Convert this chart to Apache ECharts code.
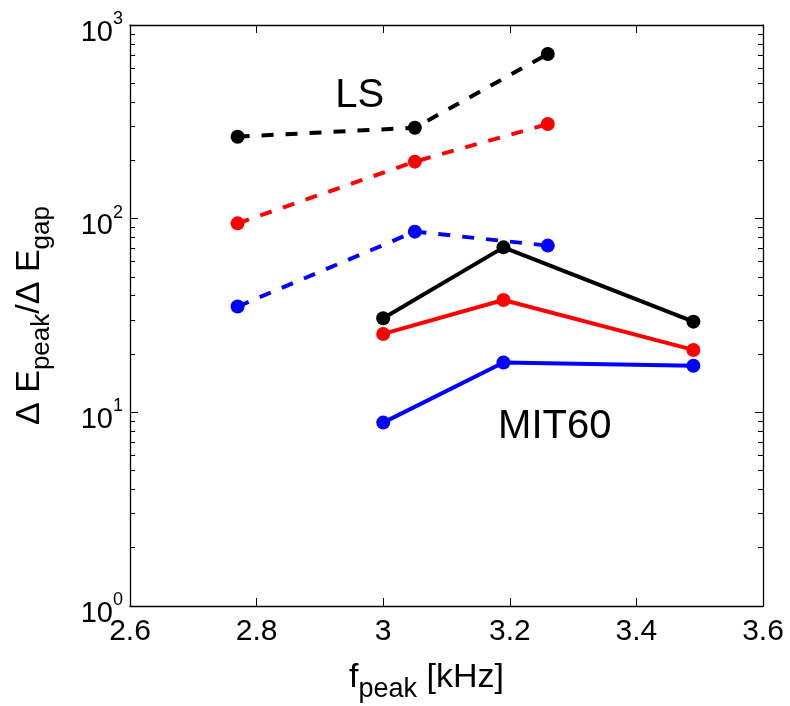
<!DOCTYPE html>
<html>
<head>
<meta charset="utf-8">
<script src="https://cdn.jsdelivr.net/npm/echarts@6/dist/echarts.min.js"></script>
<style>html,body{margin:0;padding:0;background:#fff}#c{width:790px;height:706px}</style>
</head>
<body>
<div id="c"></div>
<script>
// ---- data ----
const lsX = [2.77, 3.05, 3.26];
const lsBlack = [265, 295, 708];
const lsRed = [94.6, 197, 308];
const lsBlue = [35.2, 85.7, 72.6];
const mitX = [3.0, 3.19, 3.49];
const mitBlack = [30.6, 71.1, 29.4];
const mitRed = [25.4, 38.0, 21.0];
const mitBlue = [8.85, 18.1, 17.4];
const xTicks = [2.6, 2.8, 3.0, 3.2, 3.4, 3.6];
const yDecades = [1, 10, 100, 1000];
const annotations = [
  {text: 'LS', x: 2.963, y: 432},
  {text: 'MIT60', x: 3.271, y: 8.36}
];

const FONT = 'Liberation Sans';
const minorTicks = [];
[1, 10, 100].forEach(d => { for (let k = 2; k <= 9; k++) minorTicks.push(k * d); });

function pair(xs, ys) { return xs.map((x, i) => [x, ys[i]]); }

function mkSeries(name, xs, ys, color, dashed) {
  return {
    name, type: 'line', data: pair(xs, ys), xAxisIndex: 0, yAxisIndex: 0,
    symbol: 'circle', symbolSize: 14, showSymbol: true,
    itemStyle: {color: color},
    lineStyle: {color: color, width: 4, type: dashed ? [12, 12] : 'solid', cap: 'butt'},
    animation: false, z: 3
  };
}

const baseY = {
  type: 'log', logBase: 10, min: yDecades[0], max: yDecades[yDecades.length - 1],
  splitLine: {show: false}
};

const chart = echarts.init(document.getElementById('c'), null, {renderer: 'canvas'});
chart.setOption({
  animation: false,
  backgroundColor: '#fff',
  textStyle: {fontFamily: FONT},
  grid: {left: 130, top: 25, right: 27, bottom: 100, show: false,
    containLabel: false, outerBoundsMode: 'none'},
  xAxis: [
    {
      type: 'value', min: xTicks[0], max: xTicks[xTicks.length - 1], interval: 0.2,
      position: 'bottom',
      axisLine: {lineStyle: {color: '#000', width: 1.3}},
      axisTick: {inside: true, length: 8, lineStyle: {color: '#000'}},
      splitLine: {show: false},
      axisLabel: {color: '#000', fontSize: 30, fontFamily: FONT, margin: 11,
        formatter: v => String(Math.round(v * 10) / 10)},
      name: '{a|f}{s|peak}{a| [kHz]}',
      nameLocation: 'middle', nameGap: 50,
      nameTextStyle: {
        padding: [0, 40, 0, 0],
        rich: {
          a: {fontSize: 34, fontFamily: FONT, color: '#000', lineHeight: 40},
          s: {fontSize: 27, fontFamily: FONT, color: '#000', padding: [24, 0, 0, 0], lineHeight: 40}
        }
      }
    },
    {
      type: 'value', min: xTicks[0], max: xTicks[xTicks.length - 1], interval: 0.2,
      position: 'top',
      axisLine: {lineStyle: {color: '#000', width: 1.3}},
      axisTick: {inside: true, length: 8, lineStyle: {color: '#000'}},
      splitLine: {show: false},
      axisLabel: {show: false}
    }
  ],
  yAxis: [
    Object.assign({}, baseY, {
      position: 'left',
      axisLine: {show: true, lineStyle: {color: '#000', width: 1.3}},
      axisTick: {inside: true, length: 8, lineStyle: {color: '#000'}},
      axisLabel: {
        color: '#000', margin: 7,
        formatter: v => '{b|10}{s|' + Math.round(Math.log10(v)) + '}',
        rich: {
          b: {fontSize: 29, fontFamily: FONT, color: '#000', padding: [15, 0, 0, 0]},
          s: {fontSize: 18, fontFamily: FONT, color: '#000', padding: [0, 0, 12, 0]}
        }
      },
      name: '{a|Δ E}{s|peak}{a|/Δ E}{s|gap}',
      nameLocation: 'middle', nameRotate: 90, nameGap: 80,
      nameTextStyle: {
        rich: {
          a: {fontSize: 34, fontFamily: FONT, color: '#000', lineHeight: 40},
          s: {fontSize: 26, fontFamily: FONT, color: '#000', padding: [24, 0, 0, 0], lineHeight: 40}
        }
      }
    }),
    Object.assign({}, baseY, {
      position: 'left',
      axisLine: {show: false},
      axisTick: {inside: true, length: 5, customValues: minorTicks, lineStyle: {color: '#000'}},
      axisLabel: {show: false}
    }),
    Object.assign({}, baseY, {
      position: 'right',
      axisLine: {show: true, lineStyle: {color: '#000', width: 1.3}},
      axisTick: {inside: true, length: 8, lineStyle: {color: '#000'}},
      axisLabel: {show: false}
    }),
    Object.assign({}, baseY, {
      position: 'right',
      axisLine: {show: false},
      axisTick: {inside: true, length: 5, customValues: minorTicks, lineStyle: {color: '#000'}},
      axisLabel: {show: false}
    })
  ],
  series: [
    mkSeries('LS black', lsX, lsBlack, '#000000', true),
    mkSeries('LS red', lsX, lsRed, '#ff0000', true),
    mkSeries('LS blue', lsX, lsBlue, '#0000ff', true),
    mkSeries('MIT60 black', mitX, mitBlack, '#000000', false),
    mkSeries('MIT60 red', mitX, mitRed, '#ff0000', false),
    mkSeries('MIT60 blue', mitX, mitBlue, '#0000ff', false),
    {
      type: 'scatter', xAxisIndex: 0, yAxisIndex: 0,
      data: annotations.map(a => ({value: [a.x, a.y], name: a.text})),
      symbolSize: 0, silent: true,
      itemStyle: {color: '#000', opacity: 1},
      label: {show: true, position: 'inside', formatter: p => p.name,
        color: '#000', fontSize: 40, fontFamily: FONT,
        textBorderWidth: 0, opacity: 1}
    }
  ]
});
</script>
</body>
</html>
